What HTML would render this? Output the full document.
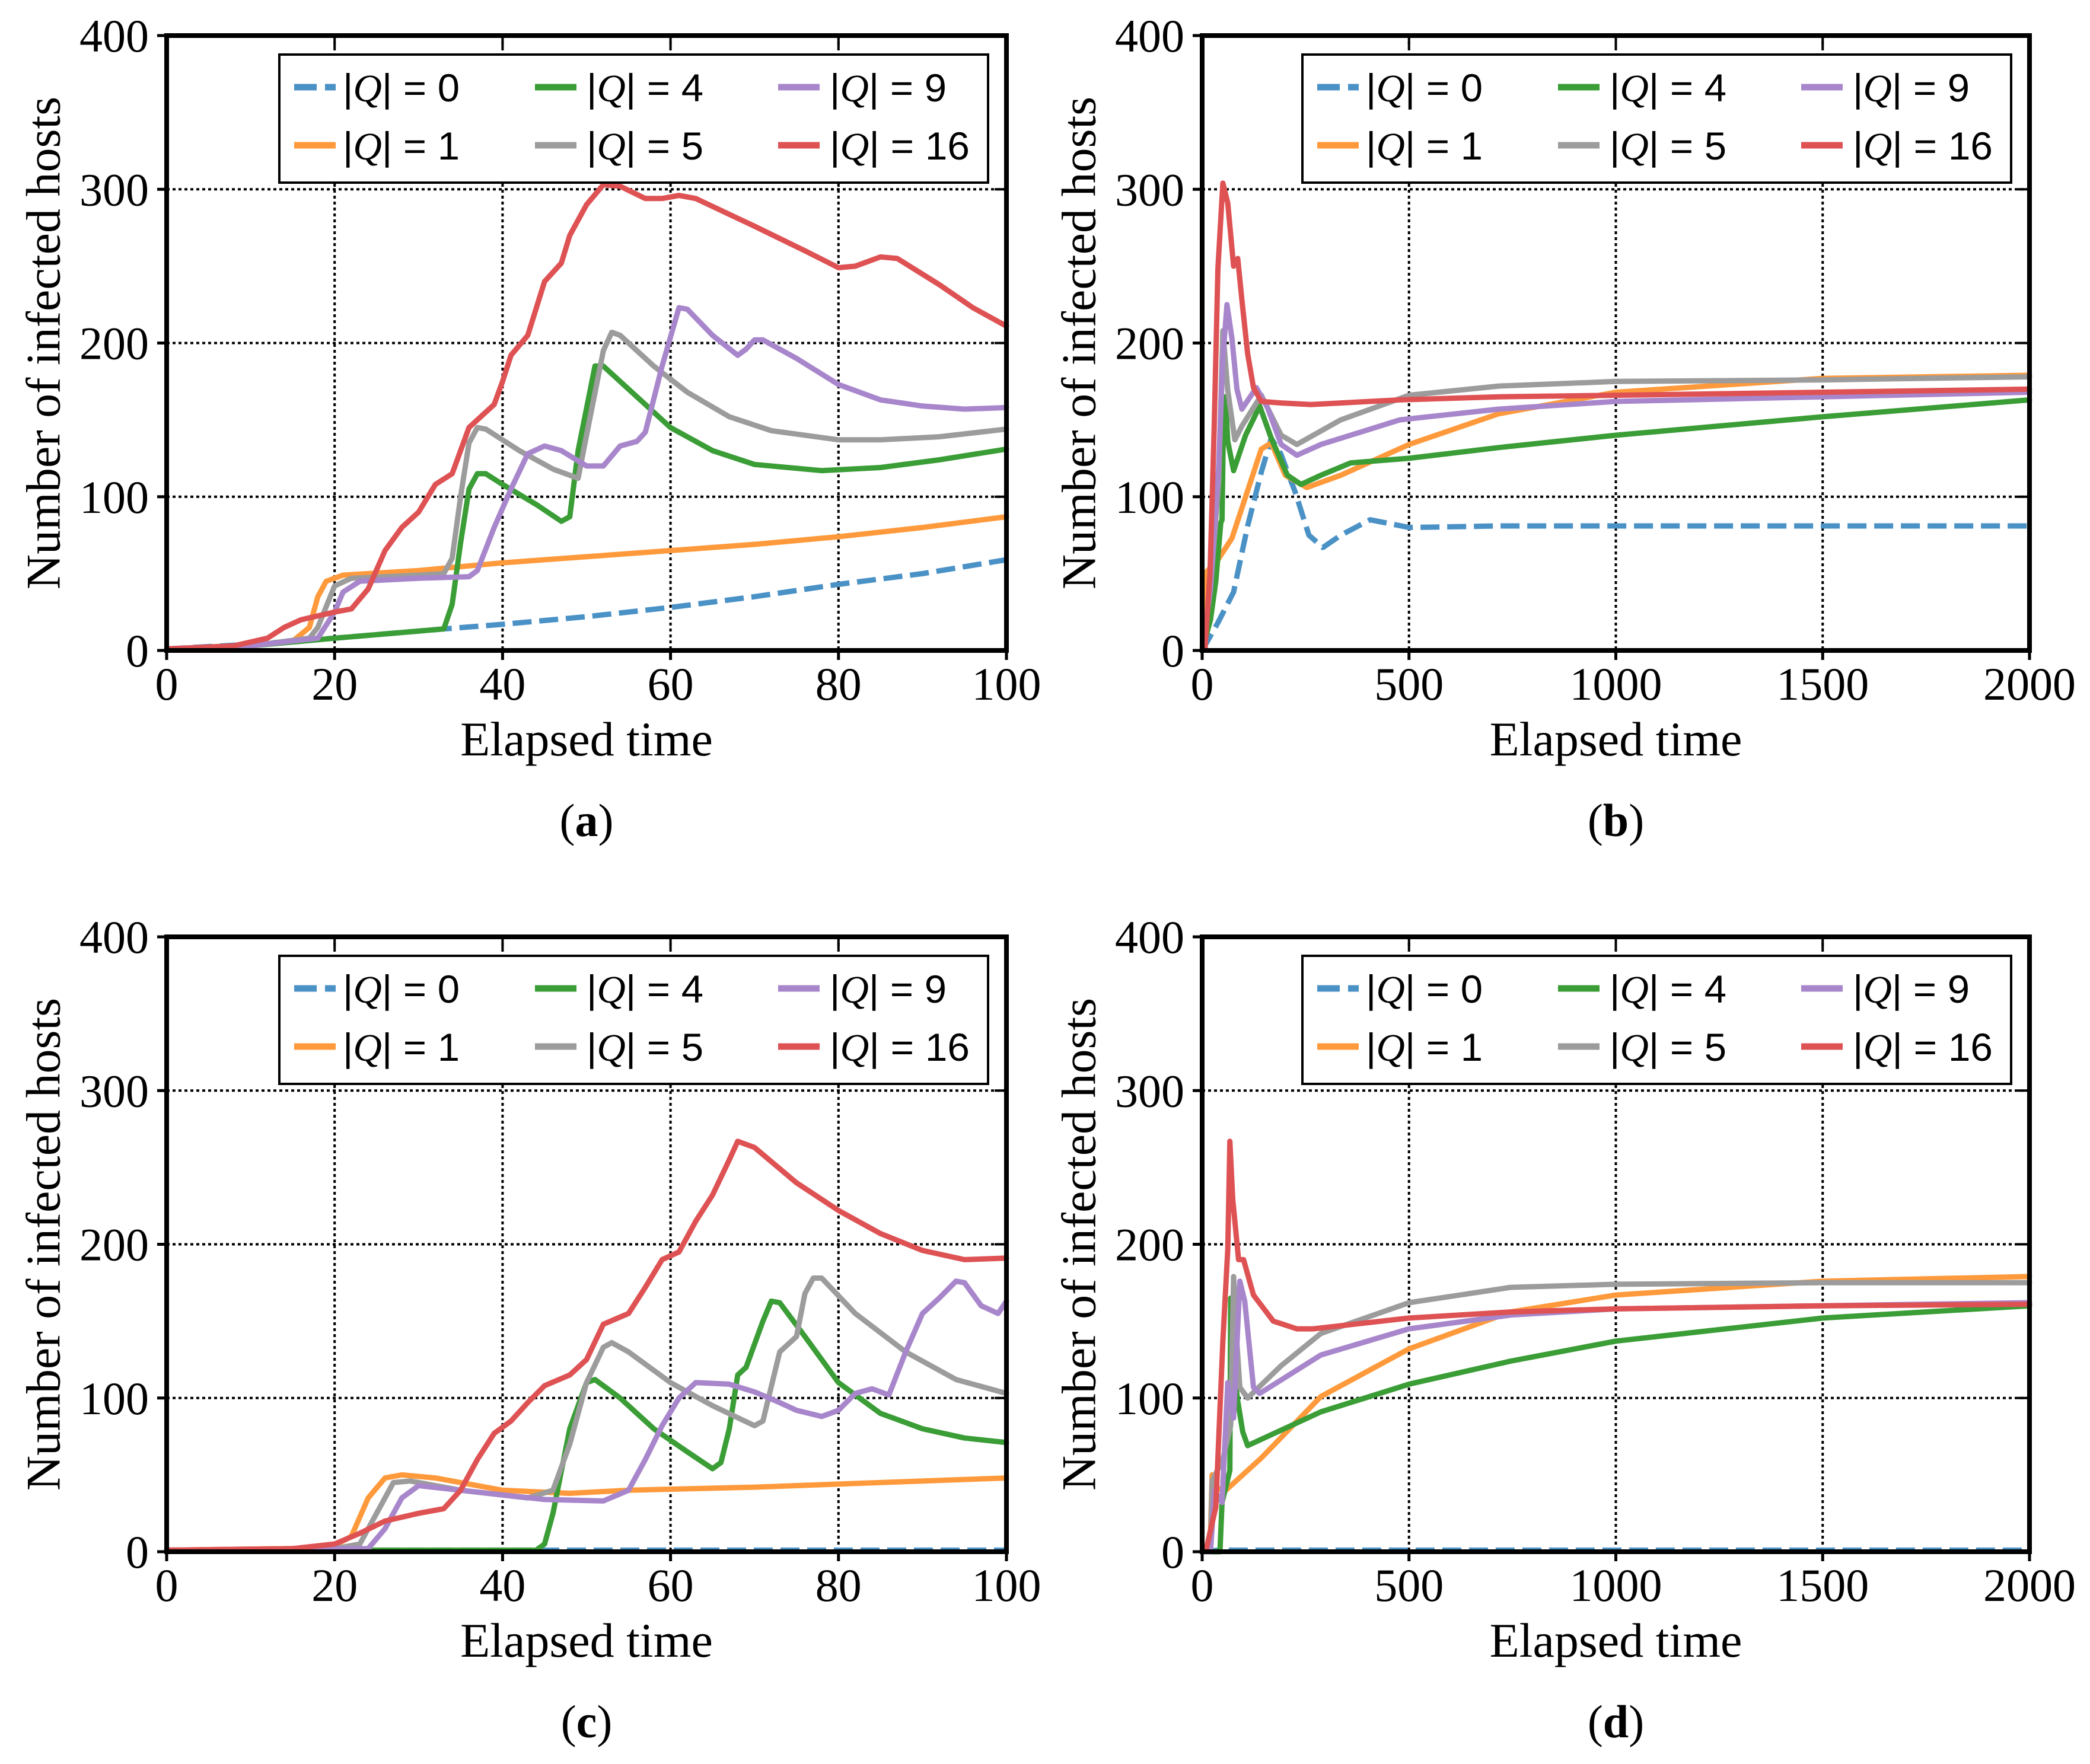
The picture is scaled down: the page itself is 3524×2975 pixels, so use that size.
<!DOCTYPE html>
<html><head><meta charset="utf-8">
<style>
html,body{margin:0;padding:0;background:#fff;}
svg{display:block;}
</style></head>
<body>
<svg id="fig" width="3524" height="2975" viewBox="0 0 3524 2975" xmlns="http://www.w3.org/2000/svg"></svg>
<script>
// ---------- data: panel (a) ----------
const a_q0 = [[0,1],[10,4],[20,8],[33,14],[40,17],[50,22],[60,28],[70,35],[80,43],[90,50],[100,59]];
const a_q1 = [[0,1],[10,3],[15,6],[17,15],[18,35],[19,45],[21,49],[30,52],[40,57],[50,61],[60,65],[70,69],[80,74],[90,80],[100,87]];
const a_q4 = [[0,1],[10,3],[18,7],[20,8],[33,14],[34,30],[35,70],[36,105],[37,115],[38,115],[40,108],[44,95],[47,84],[48,87],[49,130],[51,185],[52,185],[55,170],[60,145],[65,130],[70,121],[78,117],[85,119],[92,124],[100,131]];
const a_q5 = [[0,1],[10,3],[17,8],[18,15],[20,42],[22,47],[30,49],[33,50],[34,60],[35,100],[36,135],[37,145],[38,144],[42,130],[46,118],[49,112],[50,140],[52,195],[53,207],[54,205],[58,185],[62,168],[67,152],[72,143],[80,137],[85,137],[92,139],[100,144]];
const a_q9 = [[0,1],[10,3],[18,8],[20,25],[21,38],[23,45],[30,47],[36,48],[37,52],[39,80],[41,105],[43,128],[45,133],[47,130],[50,120],[52,120],[54,133],[56,136],[57,142],[59,185],[61,223],[62,222],[65,205],[68,192],[69,196],[70,202],[71,202],[75,190],[80,173],[85,163],[90,159],[95,157],[100,158]];
const a_q16 = [[0,1],[8,3],[12,8],[14,15],[16,20],[20,25],[22,27],[24,40],[26,65],[28,80],[30,90],[32,108],[34,115],[36,145],[37,150],[39,160],[40,175],[41,192],[43,205],[45,240],[47,252],[48,270],[50,290],[52,303],[54,302],[57,294],[59,294],[61,296],[63,294],[70,276],[76,260],[80,249],[82,250],[85,256],[87,255],[92,238],[96,223],[100,211]];
// ---------- data: panel (b) ----------
const b_q0 = [[0,0],[38,18],[76,38],[110,81],[143,116],[167,138],[190,128],[225,103],[258,75],[292,67],[335,75],[406,85],[500,80],[717,81],[2000,81]];
const b_q1 = [[0,0],[5,30],[10,51],[38,59],[72,73],[110,104],[143,131],[167,135],[201,114],[253,106],[335,114],[500,134],[717,154],[1000,168],[1500,177],[2000,179]];
const b_q4 = [[0,0],[20,20],[33,45],[45,83],[48,85],[52,160],[56,165],[62,136],[76,117],[105,140],[139,159],[167,138],[206,114],[239,108],[287,114],[359,122],[500,125],[717,132],[1000,140],[1500,152],[2000,163]];
const b_q5 = [[0,0],[20,40],[40,110],[50,208],[62,169],[79,137],[96,146],[143,166],[191,140],[229,134],[335,150],[500,166],[717,172],[1000,175],[1500,176],[2000,178]];
const b_q9 = [[0,0],[20,40],[40,120],[50,190],[60,225],[72,203],[84,170],[96,157],[131,171],[158,158],[191,134],[229,127],[287,134],[478,150],[717,157],[1000,162],[1500,165],[2000,168]];
const b_q16 = [[0,0],[7,2],[19,51],[29,144],[38,248],[50,304],[62,291],[76,250],[86,255],[96,228],[110,193],[124,171],[143,162],[191,161],[263,160],[478,163],[717,165],[1000,166],[1500,168],[2000,170]];
// ---------- data: panel (c) ----------
const c_q0 = [[0,1],[100,1]];
const c_q1 = [[0,1],[15,2],[20,4],[22,10],[24,35],[26,48],[28,50],[32,48],[40,40],[48,38],[55,40],[70,42],[80,44],[100,48]];
const c_q4 = [[0,1],[44,1],[45,5],[46,25],[48,80],[50,110],[51,112],[54,100],[58,80],[62,65],[65,54],[66,58],[67,80],[68,115],[69,120],[71,150],[72,163],[73,162],[76,140],[80,110],[85,90],[90,80],[95,74],[100,71]];
const c_q5 = [[0,1],[20,2],[23,5],[25,25],[27,45],[29,46],[35,40],[43,35],[46,40],[48,70],[50,110],[52,133],[53,136],[55,130],[60,110],[65,95],[70,82],[71,85],[73,130],[75,140],[76,168],[77,178],[78,178],[82,155],[88,130],[94,112],[100,103]];
const c_q9 = [[0,1],[24,2],[26,15],[28,35],[30,43],[35,40],[45,34],[52,33],[55,40],[57,60],[59,82],[61,100],[63,110],[67,109],[70,104],[73,97],[75,92],[78,88],[80,92],[82,103],[84,106],[86,102],[88,130],[90,155],[92,165],[94,176],[95,175],[97,160],[99,155],[100,163]];
const c_q16 = [[0,1],[15,2],[20,5],[23,12],[26,20],[30,25],[33,28],[35,40],[37,60],[39,77],[41,85],[43,97],[45,108],[48,115],[50,125],[52,148],[55,155],[57,172],[59,190],[61,195],[63,215],[65,232],[67,255],[68,267],[70,263],[75,240],[80,222],[85,207],[90,196],[95,190],[100,191]];
// ---------- data: panel (d) ----------
const d_q0 = [[0,0],[40,1],[2000,1]];
const d_q1 = [[0,0],[19,2],[24,50],[35,42],[53,39],[143,61],[287,101],[500,132],[746,156],[1000,167],[1500,176],[2000,179]];
const d_q4 = [[0,0],[43,0],[48,32],[60,45],[67,53],[69,165],[76,120],[86,98],[98,78],[110,69],[158,75],[287,91],[500,109],[746,124],[1000,137],[1500,152],[2000,160]];
const d_q5 = [[0,0],[20,0],[24,46],[50,60],[69,82],[76,179],[83,140],[91,107],[110,100],[191,121],[287,142],[500,162],[746,172],[1000,174],[1500,175],[2000,175]];
const d_q9 = [[0,0],[20,0],[30,40],[48,32],[62,110],[76,87],[91,176],[103,163],[124,107],[139,103],[287,128],[500,145],[746,154],[1000,158],[1500,160],[2000,162]];
const d_q16 = [[0,0],[10,2],[33,29],[50,137],[62,197],[67,267],[74,229],[88,190],[100,190],[124,167],[172,150],[229,145],[268,145],[500,152],[746,156],[1000,158],[1500,160],[2000,161]];
// ---------- ticks / labels ----------
const xTicksShort = [0,20,40,60,80,100];
const xTicksLong = [0,500,1000,1500,2000];
const yTicks = [0,100,200,300,400];
const legendLabels = ["0","4","9","1","5","16"];

const NS = "http://www.w3.org/2000/svg";
const svg = document.getElementById('fig');
const COLORS = {q0:"#4a91c6", q1:"#ff9a3c", q4:"#3a9d36", q5:"#9c9c9c", q9:"#a886cb", q16:"#de5254"};
function el(tag, attrs, parent){
  const e = document.createElementNS(NS, tag);
  for (const k in attrs) e.setAttribute(k, attrs[k]);
  (parent||svg).appendChild(e);
  return e;
}
const panels = [
  {id:"a", x0:281, x1:1697, y0:60, y1:1097, xmax:100, ticks:xTicksShort, series:{q0:a_q0,q1:a_q1,q4:a_q4,q5:a_q5,q9:a_q9,q16:a_q16}},
  {id:"b", x0:2027, x1:3422, y0:60, y1:1097, xmax:2000, ticks:xTicksLong, series:{q0:b_q0,q1:b_q1,q4:b_q4,q5:b_q5,q9:b_q9,q16:b_q16}},
  {id:"c", x0:281, x1:1697, y0:1580, y1:2617, xmax:100, ticks:xTicksShort, series:{q0:c_q0,q1:c_q1,q4:c_q4,q5:c_q5,q9:c_q9,q16:c_q16}},
  {id:"d", x0:2027, x1:3422, y0:1580, y1:2617, xmax:2000, ticks:xTicksLong, series:{q0:d_q0,q1:d_q1,q4:d_q4,q5:d_q5,q9:d_q9,q16:d_q16}}
];
const SERIF = '"Liberation Serif", serif';
const SANS = '"Liberation Sans", sans-serif';

panels.forEach(p => {
  const g = el('g', {});
  
  
  const sx = v => p.x0 + v / p.xmax * (p.x1 - p.x0);
  const sy = v => p.y1 - v / 400 * (p.y1 - p.y0);
  p.ticks.forEach(t => {
    if (t === 0 || t === p.xmax) return;
    const l = el('line', {x1:sx(t), x2:sx(t), y1:p.y0, y2:p.y1, stroke:"#000", "stroke-width":4, "stroke-dasharray":"5 5"}, g);
    
    
  });
  yTicks.forEach(t => {
    if (t === 0 || t === 400) return;
    const l = el('line', {x1:p.x0, x2:p.x1, y1:sy(t), y2:sy(t), stroke:"#000", "stroke-width":4, "stroke-dasharray":"5 5"}, g);
    
    
  });
  ["q0","q1","q4","q5","q9","q16"].forEach(k => {
    const pts = p.series[k].map(d => sx(d[0]).toFixed(1) + "," + sy(d[1]).toFixed(1)).join(" ");
    const attrs = {points:pts, fill:"none", stroke:COLORS[k], "stroke-width":9, "stroke-linejoin":"round", "stroke-linecap": k==="q0" ? "butt" : "round"};
    if (k === "q0") attrs["stroke-dasharray"] = "32 13";
    const pl = el('polyline', attrs, g);
    
    
  });
  p.ticks.forEach(t => {
    el('line', {x1:sx(t), x2:sx(t), y1:p.y1, y2:p.y1+16, stroke:"#000", "stroke-width":5}, g);
    el('line', {x1:sx(t), x2:sx(t), y1:p.y0, y2:p.y0+20, stroke:"#000", "stroke-width":4}, g);
    const tx = el('text', {x:sx(t), y:p.y1+83, "text-anchor":"middle", "font-family":SERIF, "font-size":78}, g);
    tx.textContent = t;
    
    
  });
  yTicks.forEach(t => {
    el('line', {x1:p.x0-16, x2:p.x0, y1:sy(t), y2:sy(t), stroke:"#000", "stroke-width":5}, g);
    el('line', {x1:p.x1-20, x2:p.x1, y1:sy(t), y2:sy(t), stroke:"#000", "stroke-width":4}, g);
    const ty = el('text', {x:p.x0-30, y:sy(t)+27, "text-anchor":"end", "font-family":SERIF, "font-size":78}, g);
    ty.textContent = t;
    
    
  });
  const fr = el('rect', {x:p.x0, y:p.y0, width:p.x1-p.x0, height:p.y1-p.y0, fill:"none", stroke:"#000", "stroke-width":8}, g);
  
  
  const xl = el('text', {x:(p.x0+p.x1)/2, y:p.y1+177, "text-anchor":"middle", "font-family":SERIF, "font-size":82}, g);
  xl.textContent = "Elapsed time";
  
  
  const cy = (p.y0+p.y1)/2, cx = p.x0 - 208;
  const yl = el('text', {x:cx, y:cy, "text-anchor":"middle", "dominant-baseline":"central", "font-family":SERIF, "font-size":82, transform:`rotate(-90 ${cx} ${cy})`}, g);
  yl.textContent = "Number of infected hosts";
  
  
  const cap = el('text', {x:(p.x0+p.x1)/2, y:p.y1+313, "text-anchor":"middle", "font-family":SERIF, "font-size":78}, g);
  cap.innerHTML = '(<tspan font-weight="bold">' + p.id + '</tspan>)';
  
  
  const lg = el('g', {}, g);
  
  
  const lx = p.x1 - 31 - 1195, ly = p.y0 + 32;
  el('rect', {x:lx, y:ly, width:1195, height:216, fill:"#fff", stroke:"#000", "stroke-width":4}, lg);
  const keys = ["q0","q4","q9","q1","q5","q16"];
  const colH = [25, 431, 841], colT = [107, 518, 928], rowY = [55, 153];
  keys.forEach((k, i) => {
    const c = i % 3, r = Math.floor(i / 3);
    const ent = el('g', {}, lg);
    
    
    const la = {x1:lx+colH[c], x2:lx+colH[c]+70, y1:ly+rowY[r], y2:ly+rowY[r], stroke:COLORS[k], "stroke-width":11};
    if (k === "q0") la["stroke-dasharray"] = "38 14";
    el('line', la, ent);
    const lab = legendLabels[i];
    const t = el('text', {x:lx+colT[c], y:ly+rowY[r]+24, "font-family":SANS, "font-size":66, textLength: lab.length > 1 ? 236 : 197, lengthAdjust:"spacingAndGlyphs"}, ent);
    t.innerHTML = '|<tspan font-family=\'"Liberation Serif", serif\' font-style="italic">Q</tspan>| = ' + lab;
  });
});
</script>
</body></html>
